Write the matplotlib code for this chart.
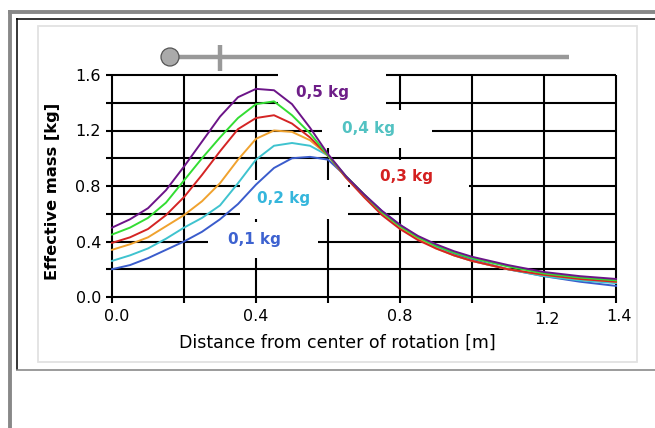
import matplotlib
matplotlib.use("Agg")
import matplotlib.pyplot as plt
import numpy as np
from matplotlib.lines import Line2D
from matplotlib.patches import Circle, Rectangle
from matplotlib.transforms import IdentityTransform, ScaledTranslation

W, H = 655, 428

# distance from center of rotation [m]
distance = [0.0, 0.05, 0.1, 0.15, 0.2, 0.25, 0.3, 0.35, 0.4, 0.45, 0.5, 0.55, 0.6,
            0.65, 0.7, 0.75, 0.8, 0.85, 0.9, 0.95, 1.0, 1.1, 1.2, 1.3, 1.4]

# effective mass [kg], one curve per colour
mass_purple = [0.50, 0.56, 0.64, 0.77, 0.94, 1.12, 1.30, 1.44, 1.50, 1.49, 1.39, 1.22, 1.03,
               0.87, 0.74, 0.62, 0.52, 0.44, 0.38, 0.33, 0.29, 0.23, 0.18, 0.15, 0.13]
mass_green = [0.45, 0.50, 0.57, 0.68, 0.84, 1.00, 1.15, 1.29, 1.39, 1.41, 1.31, 1.18, 1.02,
              0.87, 0.74, 0.61, 0.51, 0.43, 0.37, 0.32, 0.28, 0.22, 0.17, 0.14, 0.12]
mass_red = [0.39, 0.43, 0.49, 0.59, 0.72, 0.88, 1.05, 1.21, 1.29, 1.31, 1.25, 1.15, 1.02,
            0.86, 0.72, 0.59, 0.49, 0.41, 0.35, 0.30, 0.26, 0.20, 0.16, 0.13, 0.11]
mass_orange = [0.34, 0.38, 0.43, 0.51, 0.59, 0.69, 0.82, 0.99, 1.14, 1.20, 1.19, 1.13, 1.02,
               0.86, 0.73, 0.60, 0.50, 0.42, 0.35, 0.30, 0.26, 0.20, 0.16, 0.13, 0.11]
mass_cyan = [0.26, 0.30, 0.35, 0.42, 0.50, 0.57, 0.66, 0.82, 0.99, 1.09, 1.11, 1.09, 1.02,
             0.87, 0.73, 0.61, 0.51, 0.42, 0.36, 0.30, 0.26, 0.20, 0.15, 0.12, 0.10]
mass_blue = [0.20, 0.23, 0.28, 0.34, 0.40, 0.47, 0.56, 0.67, 0.81, 0.93, 1.00, 1.01, 0.99,
             0.87, 0.74, 0.62, 0.52, 0.43, 0.36, 0.31, 0.27, 0.20, 0.15, 0.11, 0.08]

curve_labels = ["0,5 kg", "0,4 kg", "0,3 kg", "0,2 kg", "0,1 kg"]

x_ticks = [0.0, 0.2, 0.4, 0.6, 0.8, 1.0, 1.2, 1.4]
x_tick_labels = ["0.0", "", "0.4", "", "0.8", "", "1.2", "1.4"]
y_ticks = [0.0, 0.2, 0.4, 0.6, 0.8, 1.0, 1.2, 1.4, 1.6]
y_tick_labels = ["0.0", "", "0.4", "", "0.8", "", "1.2", "", "1.6"]

plt.rcParams["font.family"] = ["DejaVu Sans"]

fig = plt.figure(figsize=(W / 100, H / 100), dpi=100)
ident = IdentityTransform()


def fline(xs, ys, color, lw, z=-2):
    # line in pixel coords, y measured from the top
    fig.add_artist(Line2D(xs, [H - y for y in ys], transform=ident, color=color,
                          lw=lw, solid_capstyle="butt", zorder=z))


# page frame
fline([9.5, 9.5], [10, 428], "#888888", 2.8)
fline([8, 655], [11.5, 11.5], "#888888", 2.8)
fline([16.5, 16.5], [18, 370], "black", 1.1)
fline([16, 655], [18.5, 18.5], "black", 1.1)
fline([16, 655], [369.5, 369.5], "#808080", 1.1)
fig.add_artist(Rectangle((38, H - 362), 599, 336, transform=ident, facecolor="white",
                         edgecolor="#e2e2e2", lw=1.3, zorder=-1))

# slider
fline([170, 569], [57, 57], "#999999", 3.2, z=2)
fline([220, 220], [45, 71], "#999999", 3.2, z=2)
fig.add_artist(Circle((170, H - 57), 9, transform=ident, facecolor="#aaaaaa",
                      edgecolor="#555555", lw=0.9, zorder=3))

ax = fig.add_axes([112 / W, (H - 297) / H, 504 / W, 222 / H])
ax.patch.set_visible(False)
for s in ax.spines.values():
    s.set_visible(False)
ax.set_xlim(0, 1.4)
ax.set_ylim(0, 1.6)

# grid drawn by hand so the outer lines are not clipped
ax.hlines(y_ticks, 0, 1.4, colors="black", lw=1.5, clip_on=False, zorder=1)
ax.vlines(x_ticks, 0, 1.6, colors="black", lw=1.5, clip_on=False, zorder=1)

ax.set_xticks(x_ticks)
ax.set_xticklabels(x_tick_labels)
ax.set_yticks(y_ticks)
ax.set_yticklabels(y_tick_labels)
ax.tick_params(axis="both", direction="out", width=1.5, color="black", labelsize=11.5)
ax.tick_params(axis="y", length=4.5, pad=3.5)
ax.tick_params(axis="x", length=4, pad=4.5)

shifts = {"0.0": (5, 0), "1.2": (3, -3), "1.4": (3, 0)}
for lab in ax.get_xticklabels():
    dx, dy = shifts.get(lab.get_text(), (0, 0))
    lab.set_transform(lab.get_transform() + ScaledTranslation(dx / 100, dy / 100, fig.dpi_scale_trans))

# white blocks that cut the grid behind the labels (pixel boxes: x0, y0, x1, y1)
boxes = [(278, 68, 386, 112), (322, 110, 432, 148), (350, 160, 469, 197),
         (240, 180, 348, 219), (208, 222, 318, 258)]
for x0, y0, x1, y1 in boxes:
    ax.add_patch(Rectangle((x0, H - y1), x1 - x0, y1 - y0, transform=ident,
                           facecolor="white", edgecolor="none", clip_on=False, zorder=1.5))

series = [
    (mass_blue, "#3a5ccc"),
    (mass_cyan, "#3fc3cf"),
    (mass_orange, "#f0a22e"),
    (mass_red, "#d42424"),
    (mass_green, "#33dd33"),
    (mass_purple, "#6c1488"),
]
for vals, col in series:
    ax.plot(distance, vals, color=col, lw=1.4, zorder=3, clip_on=False,
            solid_joinstyle="round")

label_pos = [(322, 92, "#6e1e88"), (368, 128, "#52c2c2"), (406, 177, "#d42020"),
             (284, 199, "#35b6dc"), (254, 240, "#3d62d0")]
for text, (lx, ly, col) in zip(curve_labels, label_pos):
    fig.text(lx / W, 1 - ly / H, text, color=col, fontsize=11, fontweight="bold",
             ha="center", va="center", zorder=4)

fig.text(337 / W, 1 - 343 / H, "Distance from center of rotation [m]",
         fontsize=12.5, ha="center", va="center")
fig.text(53 / W, 1 - 191 / H, "Effective mass [kg]", fontsize=11.7,
         fontweight="bold", rotation=90, ha="center", va="center")

fig.savefig("out.png", dpi=100, facecolor="white")
